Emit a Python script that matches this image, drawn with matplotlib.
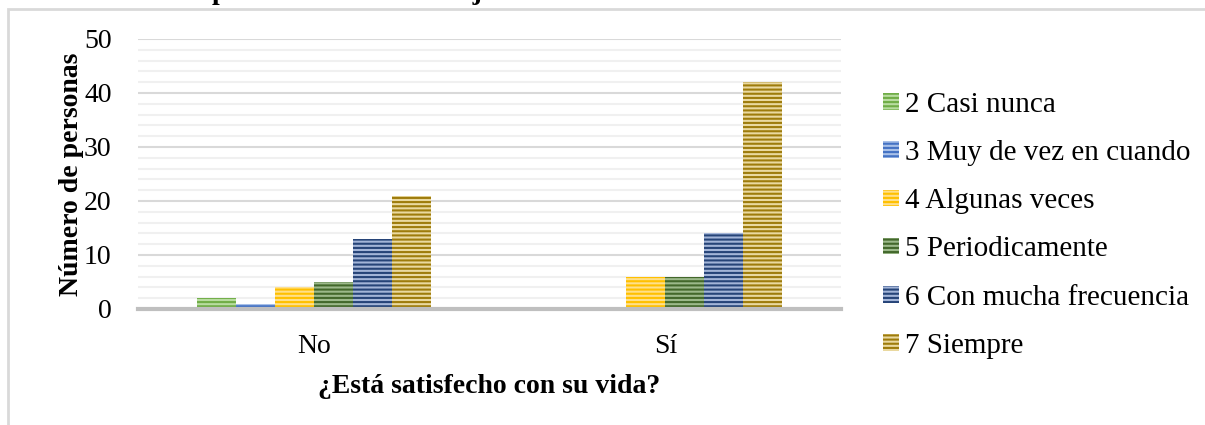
import matplotlib.pyplot as plt
import matplotlib.patches as mpatches
import numpy as np

# datos
categorias = ['No', 'Sí']
series = ['2 Casi nunca', '3 Muy de vez en cuando', '4 Algunas veces',
          '5 Periodicamente', '6 Con mucha frecuencia', '7 Siempre']
valores = [
    [2, 0],
    [1, 0],
    [4, 6],
    [5, 6],
    [13, 14],
    [21, 42],
]
# color claro de fondo y color de las rayas
claros = ['#b8dca0', '#a8c0e8', '#ffe08a', '#9cb98a', '#a3b5d8', '#ead9a0']
oscuros = ['#70ad47', '#4472c4', '#ffc000', '#43682b', '#264478', '#9e7c0c']

plt.rcParams['font.family'] = ['Liberation Serif', 'DejaVu Serif']
plt.rcParams['hatch.linewidth'] = 1.5

fig = plt.figure(figsize=(12.05, 4.25), dpi=100)
ax = fig.add_axes([138 / 1205, 116 / 425, 703 / 1205, 270 / 425])

# marco gris del grafico
marco = mpatches.Rectangle((8 / 1205, -0.1), 1.2, 1 - 9 / 425 + 0.1,
                           transform=fig.transFigure, fill=False,
                           edgecolor='#d9d9d9', linewidth=2, clip_on=False)
fig.patches.append(marco)

# titulo cortado arriba
fig.text(30 / 1205, 1.018, 'sustento diario por medio de su trabajo.',
         fontsize=20, fontweight='bold', va='center', ha='left')

x = np.arange(len(categorias))
ancho = 0.111
n = len(series)
for i in range(n):
    pos = x + (i - (n - 1) / 2) * ancho
    ax.bar(pos, valores[i], width=ancho, color=claros[i], edgecolor=oscuros[i],
           hatch='----', linewidth=0, label=series[i], zorder=3)

ax.set_xlim(-0.5, 1.5)
ax.set_ylim(0, 50)
ax.set_yticks(range(0, 51, 10))
ax.set_yticks(range(0, 51, 2), minor=True)
ax.grid(axis='y', which='major', color='#d9d9d9', linewidth=1.5, zorder=0)
ax.grid(axis='y', which='minor', color='#f0f0f0', linewidth=1.5, zorder=0)
ax.set_xticks(x)
ax.set_xticklabels(categorias)
ax.tick_params(axis='both', which='both', length=0, labelsize=20)
ax.tick_params(axis='x', pad=18)
ax.tick_params(axis='y', pad=19)
for lado in ['top', 'right', 'left']:
    ax.spines[lado].set_visible(False)
ax.spines['bottom'].set_color('#bfbfbf')
ax.spines['bottom'].set_linewidth(3)
ax.spines['bottom'].set_zorder(4)

ax.set_ylabel('Número de personas', fontsize=20, fontweight='bold', labelpad=0)
ax.set_xlabel('¿Está satisfecho con su vida?', fontsize=20, fontweight='bold',
              labelpad=11)

ax.legend(loc='center left', bbox_to_anchor=(1.06, 0.31), frameon=False,
          fontsize=21, handlelength=0.55, handleheight=0.5, handletextpad=0.2,
          labelspacing=0.76, borderpad=0, borderaxespad=0)

fig.savefig('out.png', dpi=100)
